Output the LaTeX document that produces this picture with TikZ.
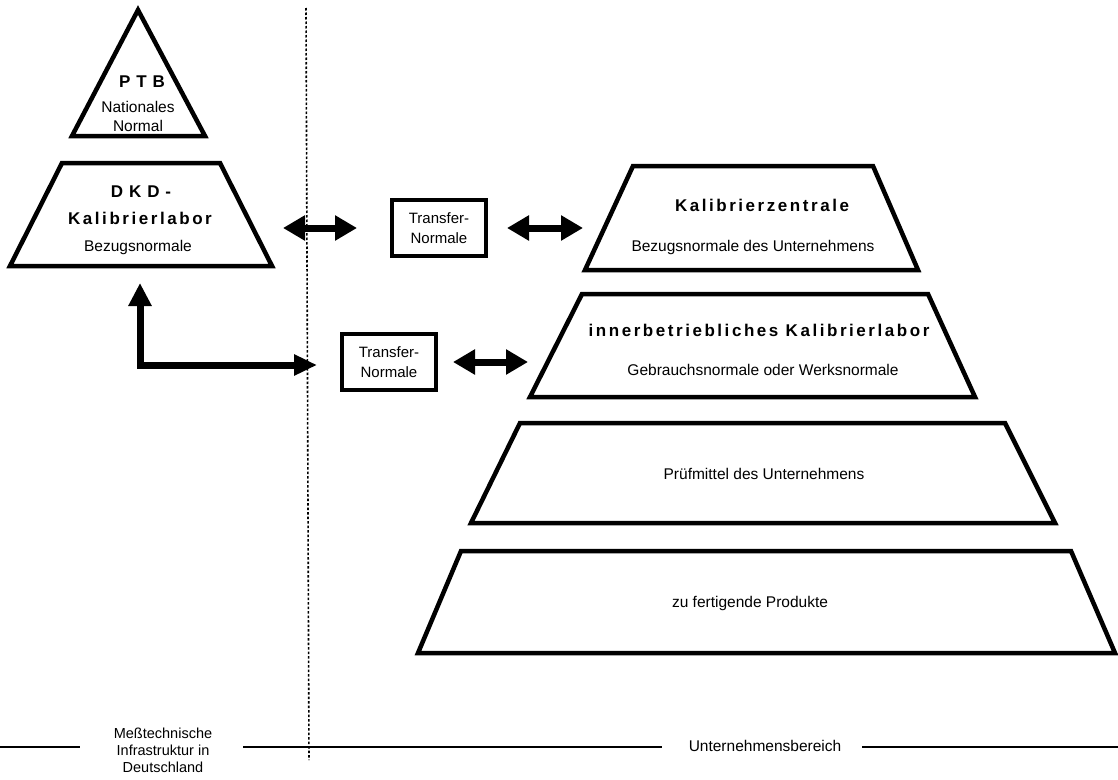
\documentclass[tikz,border=0pt]{standalone}
\usepackage{fontspec}
\setmainfont{Liberation Sans}
\usetikzlibrary{arrows.meta}
\tikzset{
  pyr/.style={draw, line width=4.5pt, line join=miter, fill=white},
  lbl/.style={font=\fontsize{15.5}{19}\selectfont, align=center, inner sep=0pt},
  small/.style={font=\fontsize{14.5}{17}\selectfont, align=center, inner sep=0pt},
  ttl/.style={font=\fontsize{17}{20}\selectfont\bfseries\addfontfeature{LetterSpace=15}, inner sep=0pt},
  wide/.style={font=\fontsize{17}{20}\selectfont\bfseries\addfontfeature{LetterSpace=35}, inner sep=0pt},
  tbox/.style={draw, line width=4pt, minimum width=94pt, minimum height=56pt, align=center,
               font=\fontsize{15}{20}\selectfont, inner sep=0pt},
  bigarrow/.style={line width=7pt, {Triangle[length=22pt,width=24pt]}-{Triangle[length=22pt,width=24pt]}},
  elbow/.style={line width=7pt, line join=miter, {Triangle[length=23pt,width=22pt]}-{Triangle[length=23pt,width=20pt]}},
  sepline/.style={line width=1.6pt, dash pattern=on 2.5pt off 2pt},
  baseline/.style={line width=1.2pt}
}
\begin{document}
\begin{tikzpicture}[x=1pt,y=-1pt]
\useasboundingbox[fill=white] (0,0) rectangle (1118,779);

% separator
\coordinate (sepT) at (306,8);
\coordinate (sepB) at (309,760);
\draw[sepline] (sepT) -- (sepB);

% bottom line
\coordinate (b0) at (0,747);
\coordinate (b1) at (80,747);
\coordinate (b2) at (243,747);
\coordinate (b3) at (662,747);
\coordinate (b4) at (862,747);
\coordinate (b5) at (1118,747);
\draw[baseline] (b0) -- (b1);
\draw[baseline] (b2) -- (b3);
\draw[baseline] (b4) -- (b5);
\node[small] (infra) at (163,750) {Meßtechnische\\Infrastruktur in\\Deutschland};
\node[lbl] (unt) at (765,746) {Unternehmensbereich};

% PTB triangle
\coordinate (ptbA) at (138,10);
\coordinate (ptbR) at (205,136);
\coordinate (ptbL) at (72,136);
\draw[pyr] (ptbA) -- (ptbR) -- (ptbL) -- cycle;
\node[wide] (ptbT) at (142,82) {PTB};
\node[lbl] (ptbS) at (138,116) {Nationales\\Normal};

% DKD trapezoid
\coordinate (dkdTL) at (62,163);
\coordinate (dkdTR) at (220,163);
\coordinate (dkdBR) at (272,266);
\coordinate (dkdBL) at (10,266);
\draw[pyr] (dkdTL) -- (dkdTR) -- (dkdBR) -- (dkdBL) -- cycle;
\node[wide] (dkdT) at (141,192) {DKD-};
\node[ttl] (dkdK) at (140,218) {Kalibrierlabor};
\node[lbl] (dkdB) at (138,247) {Bezugsnormale};

% company pyramid
\coordinate (kTL) at (633,166);
\coordinate (kTR) at (873,166);
\coordinate (kBR) at (918,270);
\coordinate (kBL) at (585,270);
\draw[pyr] (kTL) -- (kTR) -- (kBR) -- (kBL) -- cycle;
\node[ttl] (kT) at (762,205) {Kalibrierzentrale};
\node[lbl] (kB) at (753,247) {Bezugsnormale des Unternehmens};

\coordinate (iTL) at (582,294);
\coordinate (iTR) at (928,294);
\coordinate (iBR) at (975,397);
\coordinate (iBL) at (530,397);
\draw[pyr] (iTL) -- (iTR) -- (iBR) -- (iBL) -- cycle;
\node[ttl] (iT) at (759,330) {innerbetriebliches Kalibrierlabor};
\node[lbl] (iB) at (763,370) {Gebrauchsnormale oder Werksnormale};

\coordinate (pTL) at (520,423);
\coordinate (pTR) at (1005,423);
\coordinate (pBR) at (1055,523);
\coordinate (pBL) at (471,523);
\draw[pyr] (pTL) -- (pTR) -- (pBR) -- (pBL) -- cycle;
\node[lbl] (pT) at (764,474) {Prüfmittel des Unternehmens};

\coordinate (zTL) at (461,551);
\coordinate (zTR) at (1071,551);
\coordinate (zBR) at (1115,653);
\coordinate (zBL) at (418,653);
\draw[pyr] (zTL) -- (zTR) -- (zBR) -- (zBL) -- cycle;
\node[lbl] (zT) at (750,603) {zu fertigende Produkte};

% transfer boxes
\node[tbox] (tr1) at (439,228) {Transfer-\\Normale};
\node[tbox] (tr2) at (389,362) {Transfer-\\Normale};

% arrows
\coordinate (a1l) at (283,228);
\coordinate (a1r) at (357,228);
\draw[bigarrow] (a1l) -- (a1r);
\coordinate (a2l) at (507,228);
\coordinate (a2r) at (583,228);
\draw[bigarrow] (a2l) -- (a2r);
\coordinate (a3l) at (453,362);
\coordinate (a3r) at (528,362);
\draw[bigarrow] (a3l) -- (a3r);
\coordinate (eUp) at (140,283);
\coordinate (eRt) at (317,365);
\draw[elbow] (eUp) |- (eRt);
\end{tikzpicture}
\end{document}
